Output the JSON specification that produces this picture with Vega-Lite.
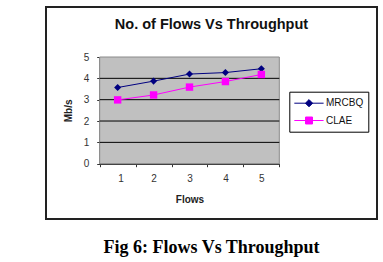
{
  "$schema": "https://vega.github.io/schema/vega-lite/v6.json",
  "padding": {"left": 45, "top": 6, "right": 7, "bottom": 5},
  "background": "white",
  "title": {"text": "Fig 6: Flows Vs Throughput", "orient": "bottom", "anchor": "middle", "font": "Liberation Serif", "fontSize": 18, "fontWeight": "bold", "color": "#000", "offset": 19},
  "datasets": {
    "series": [
      {"flows": 1, "mbps": 3.57, "series": "MRCBQ"},
      {"flows": 2, "mbps": 3.87, "series": "MRCBQ"},
      {"flows": 3, "mbps": 4.2, "series": "MRCBQ"},
      {"flows": 4, "mbps": 4.27, "series": "MRCBQ"},
      {"flows": 5, "mbps": 4.45, "series": "MRCBQ"},
      {"flows": 1, "mbps": 2.99, "series": "CLAE"},
      {"flows": 2, "mbps": 3.22, "series": "CLAE"},
      {"flows": 3, "mbps": 3.59, "series": "CLAE"},
      {"flows": 4, "mbps": 3.85, "series": "CLAE"},
      {"flows": 5, "mbps": 4.18, "series": "CLAE"}
    ],
    "gridlines": [{"g": 1}, {"g": 2}, {"g": 3}, {"g": 4}]
  },
  "vconcat": [
    {
      "width": 331,
      "height": 212,
      "title": {"text": "No. of Flows Vs Throughput", "orient": "top", "anchor": "middle", "frame": "group", "font": "Liberation Sans", "fontSize": 14.5, "fontWeight": "bold", "color": "#111", "offset": -25},
      "layer": [
        {
          "data": {"values": [{}]},
          "mark": {"type": "rect", "fill": "#c0c0c0", "stroke": "#8a8a8a", "strokeWidth": 1},
          "encoding": {
            "x": {"datum": 0.5, "type": "quantitative", "scale": {"domain": [0.5, 5.5], "range": [53.7, 233.3], "nice": false, "zero": false},
              "axis": {"orient": "bottom", "offset": -55.3, "values": [0.5, 1.5, 2.5, 3.5, 4.5, 5.5], "labelExpr": "datum.value < 5 ? format(datum.value + 0.5, 'd') : ''", "labelOffset": 18, "tickSize": 3, "tickColor": "#333", "domainColor": "#333", "domainWidth": 1.5, "grid": false, "labelFont": "Liberation Sans", "labelFontSize": 10, "labelColor": "#333", "labelPadding": 7, "title": "Flows", "titleFont": "Liberation Sans", "titleFontSize": 10, "titleFontWeight": "bold", "titleColor": "#222", "titlePadding": 11}},
            "x2": {"datum": 5.5},
            "y": {"datum": 0, "type": "quantitative", "scale": {"domain": [0, 5], "range": [156.7, 50], "nice": false, "zero": false},
              "axis": {"orient": "left", "offset": -53.7, "values": [0, 1, 2, 3, 4, 5], "tickSize": 3, "tickColor": "#333", "domainColor": "#333", "domainWidth": 1.5, "grid": false, "labelFont": "Liberation Sans", "labelFontSize": 10, "labelColor": "#333", "labelPadding": 8, "title": "Mb/s", "titleFont": "Liberation Sans", "titleFontSize": 10, "titleFontWeight": "bold", "titleColor": "#222", "titlePadding": 10}},
            "y2": {"datum": 5}
          }
        },
        {
          "data": {"name": "gridlines"},
          "mark": {"type": "rule", "color": "#000", "strokeWidth": 1},
          "encoding": {
            "x": {"datum": 0.5, "type": "quantitative"},
            "x2": {"datum": 5.5},
            "y": {"field": "g", "type": "quantitative"}
          }
        },
        {
          "data": {"name": "series"},
          "mark": {"type": "line", "strokeWidth": 1},
          "encoding": {
            "x": {"field": "flows", "type": "quantitative"},
            "y": {"field": "mbps", "type": "quantitative"},
            "color": {"field": "series", "type": "nominal",
              "scale": {"domain": ["MRCBQ", "CLAE"], "range": ["#000080", "#ff00ff"]},
              "legend": {"title": null, "orient": "none", "legendX": 243.3, "legendY": 84.7, "direction": "vertical",
                "strokeColor": "#000", "padding": 5, "fillColor": "white",
                "symbolSize": 144, "symbolStrokeWidth": 1, "labelFont": "Liberation Sans", "labelFontSize": 10, "labelColor": "#111", "labelOffset": 18.7, "rowPadding": 4.3,
                "encode": {"symbols": {"update": {
                  "shape": {"signal": "datum.value === 'MRCBQ' ? 'M-1.08,0H3.8M1.37,-0.6L1.97,0L1.37,0.6L0.77,0Z' : 'M-1.08,0H3.8M0.79,-0.58H1.95V0.58H0.79Z'"},
                  "fill": {"signal": "datum.value === 'MRCBQ' ? '#000080' : '#ff00ff'"},
                  "stroke": {"signal": "datum.value === 'MRCBQ' ? '#000080' : '#ff00ff'"}
                }}}}
            }
          }
        },
        {
          "data": {"name": "series"},
          "mark": {"type": "point", "filled": true, "opacity": 1},
          "encoding": {
            "x": {"field": "flows", "type": "quantitative"},
            "y": {"field": "mbps", "type": "quantitative"},
            "color": {"field": "series", "type": "nominal", "legend": null},
            "shape": {"condition": {"test": "datum.series === 'MRCBQ'", "value": "diamond"}, "value": "square"},
            "size": {"condition": {"test": "datum.series === 'MRCBQ'", "value": 50}, "value": 55}
          }
        }
      ]
    }
  ],
  "config": {
    "view": {"stroke": "#222", "strokeWidth": 2},
    "font": "Liberation Sans"
  }
}
